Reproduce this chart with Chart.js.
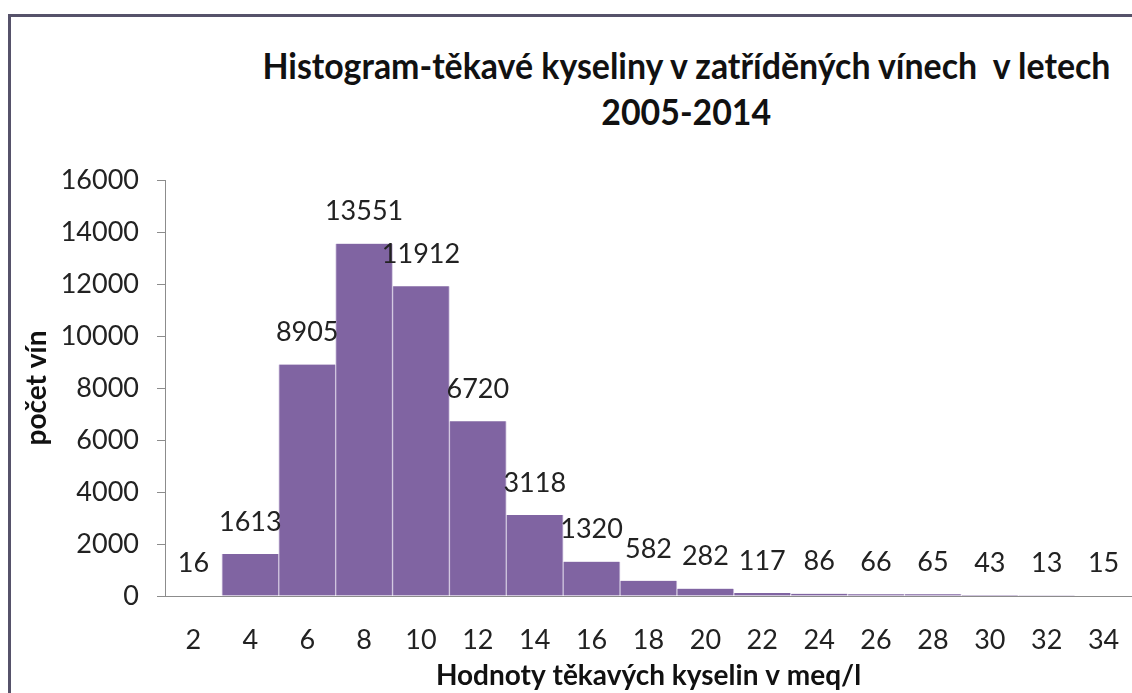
<!DOCTYPE html>
<html>
<head>
<meta charset="utf-8">
<script src="https://cdn.jsdelivr.net/npm/chart.js@4.4.1/dist/chart.umd.min.js"></script>
<style>
    html, body { margin: 0; padding: 0; background: #fff; overflow: hidden; }
    #wrap { position: relative; width: 1132px; height: 693px; }
    #frame { position: absolute; left: 8px; top: 14px; width: 1300px; height: 900px;
             border-left: 3px solid #56526a; border-top: 3px solid #56526a; }
    #title { position: absolute; left: 186px; width: 1000px; top: 42px; text-align: center;
             font: bold 36px Lato, 'Open Sans', sans-serif; line-height: 46px; color: #111; }
    #title span { display: inline-block; white-space: pre; transform-origin: 50% 50%; }
    canvas { position: absolute; left: 0; top: 0; }
</style>
</head>
<body>
<div id="wrap">
    <div id="frame"></div>
    <div id="title"><span class="tline">Histogram-těkavé kyseliny v zatříděných vínech  v letech</span><br><span class="tline">2005-2014</span></div>
    <canvas id="histChart" width="1132" height="693"></canvas>
</div>
<script>
// data
const categories = ['2', '4', '6', '8', '10', '12', '14', '16', '18', '20', '22', '24', '26', '28', '30', '32', '34'];
const counts = [16, 1613, 8905, 13551, 11912, 6720, 3118, 1320, 582, 282, 117, 86, 66, 65, 43, 13, 15];
const yTicks = [0, 2000, 4000, 6000, 8000, 10000, 12000, 14000, 16000];

const textFont = 'Lato, "Open Sans", sans-serif';

// squeeze the title so it looks like the narrow original font
const titleLines = document.querySelectorAll('#title .tline');
const squeeze = 848 / titleLines[0].getBoundingClientRect().width;
titleLines.forEach(line => {
    line.style.transform = 'scaleX(' + squeeze + ')';
});

// value labels above each bar
const barLabels = {
    id: 'barLabels',
    afterDatasetsDraw(chart) {
        const ctx = chart.ctx;
        const meta = chart.getDatasetMeta(0);
        ctx.save();
        ctx.font = '27px ' + textFont;
        ctx.fillStyle = '#222';
        ctx.textAlign = 'center';
        ctx.textBaseline = 'middle';
        meta.data.forEach((bar, i) => {
            ctx.fillText(String(counts[i]), bar.x, bar.y - 32);
        });
        ctx.restore();
    }
};

const ctx = document.getElementById('histChart').getContext('2d');
const histChart = new Chart(ctx, {
    type: 'bar',
    data: {
        labels: categories,
        datasets: [{
            label: 'počet vín',
            data: counts,
            backgroundColor: '#8064a2',
            borderColor: '#cfc4de',
            borderWidth: { left: 1, right: 1, top: 0, bottom: 0 },
            categoryPercentage: 1.0,
            barPercentage: 1.0
        }]
    },
    options: {
        responsive: false,
        animation: false,
        layout: { padding: { top: 180, right: 0, left: 0, bottom: 0 } },
        plugins: {
            legend: { display: false },
            tooltip: { enabled: false },
            title: { display: false }
        },
        scales: {
            x: {
                grid: { display: false },
                border: { display: true, color: '#8c8c8c', width: 1 },
                ticks: { color: '#222', font: { family: textFont, size: 27 }, padding: 20, maxRotation: 0, autoSkip: false },
                title: {
                    display: true,
                    text: 'Hodnoty těkavých kyselin v meq/l',
                    color: '#111',
                    font: { family: textFont, size: 28, weight: 'bold' },
                    padding: { top: 0, bottom: 0 }
                },
                afterFit: function(scale) {
                    scale.height = 97;
                    scale.paddingLeft = 0;
                    scale.paddingRight = 0;
                }
            },
            y: {
                min: 0,
                max: 16000,
                afterBuildTicks: function(scale) {
                    scale.ticks = yTicks.map(v => ({ value: v }));
                },
                grid: { drawOnChartArea: false, drawTicks: true, tickLength: 8, color: '#8c8c8c' },
                border: { display: true, color: '#8c8c8c', width: 1 },
                ticks: {
                    color: '#222',
                    font: { family: textFont, size: 27 },
                    padding: 18,
                    callback: function(value) { return String(value); }
                },
                title: {
                    display: true,
                    text: 'počet vín',
                    color: '#111',
                    font: { family: textFont, size: 28, weight: 'bold' },
                    padding: { top: 20, bottom: 0 }
                },
                afterFit: function(scale) { scale.width = 165; }
            }
        }
    },
    plugins: [barLabels]
});
</script>
</body>
</html>
